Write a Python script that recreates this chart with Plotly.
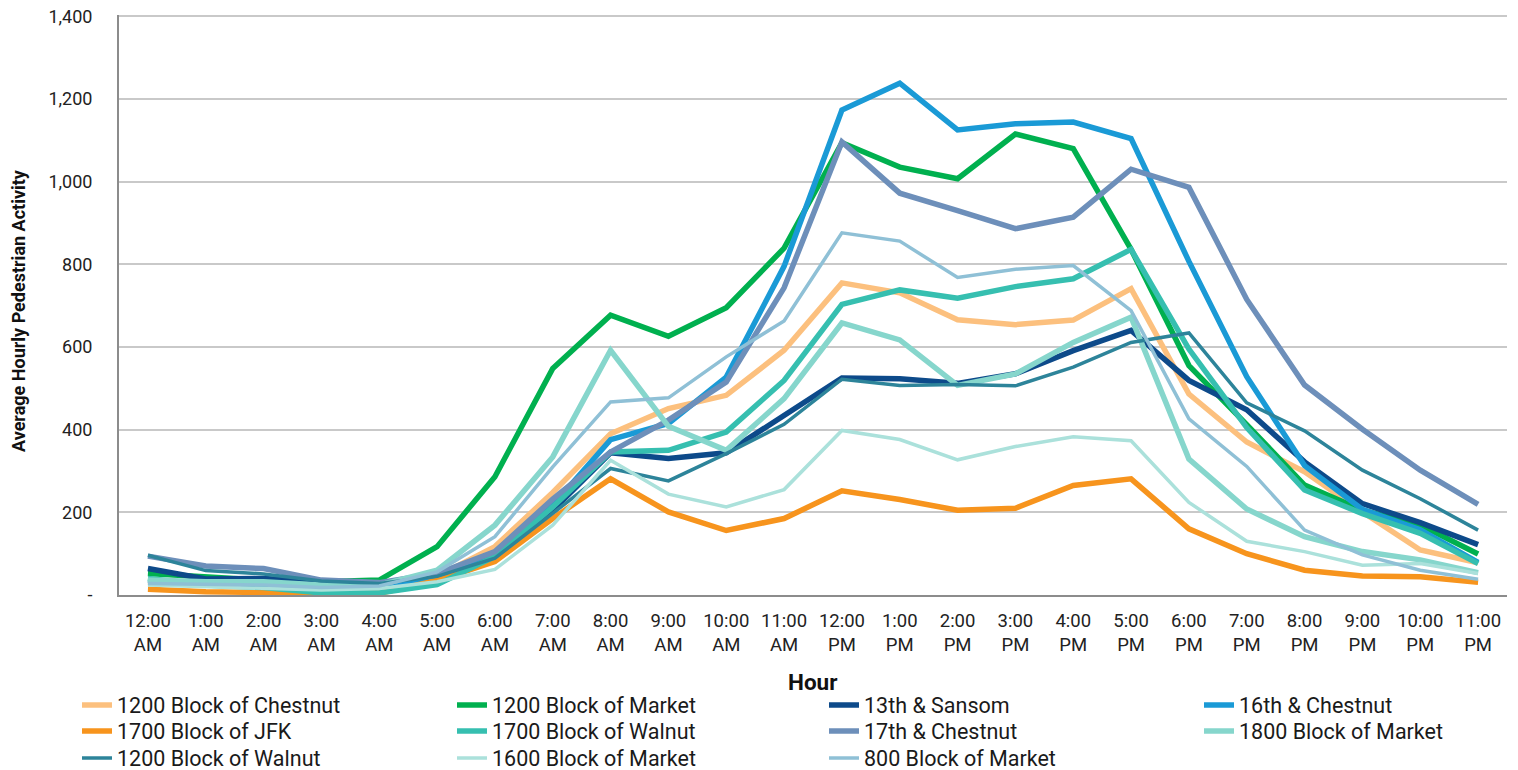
import plotly.graph_objects as go

hours = ["12:00<br>AM", "1:00<br>AM", "2:00<br>AM", "3:00<br>AM", "4:00<br>AM", "5:00<br>AM",
         "6:00<br>AM", "7:00<br>AM", "8:00<br>AM", "9:00<br>AM", "10:00<br>AM", "11:00<br>AM",
         "12:00<br>PM", "1:00<br>PM", "2:00<br>PM", "3:00<br>PM", "4:00<br>PM", "5:00<br>PM",
         "6:00<br>PM", "7:00<br>PM", "8:00<br>PM", "9:00<br>PM", "10:00<br>PM", "11:00<br>PM"]

chestnut_1200 = [32, 28, 24, 20, 22, 45, 117, 248, 390, 451, 483, 592, 755, 731, 666, 654, 665, 741, 486, 370, 298, 201, 109, 78]
market_1200 = [52, 43, 36, 32, 36, 117, 286, 548, 677, 626, 695, 839, 1094, 1035, 1007, 1115, 1080, 836, 555, 412, 266, 205, 169, 99]
sansom_13th = [64, 39, 40, 32, 28, 42, 93, 205, 344, 330, 344, 435, 525, 523, 512, 535, 591, 640, 519, 448, 322, 221, 175, 122]
chestnut_16th = [36, 26, 22, 16, 18, 38, 101, 217, 376, 415, 527, 795, 1173, 1238, 1125, 1140, 1144, 1104, 807, 528, 313, 207, 158, 79]
jfk_1700 = [14, 8, 6, 3, 4, 35, 81, 185, 281, 201, 156, 185, 252, 231, 205, 210, 265, 281, 160, 100, 60, 46, 44, 31]
walnut_1700 = [40, 24, 18, 5, 5, 25, 93, 213, 346, 350, 394, 519, 703, 738, 718, 746, 765, 836, 595, 405, 254, 197, 149, 76]
chestnut_17th = [94, 70, 64, 36, 30, 52, 105, 232, 346, 423, 515, 743, 1096, 972, 930, 886, 914, 1030, 986, 715, 508, 401, 302, 219]
market_1800 = [36, 32, 32, 24, 24, 60, 169, 334, 592, 408, 350, 475, 658, 617, 507, 535, 611, 672, 329, 208, 141, 105, 85, 54]
walnut_1200 = [96, 59, 51, 34, 28, 45, 89, 197, 306, 276, 342, 413, 522, 507, 509, 506, 551, 611, 634, 465, 397, 302, 233, 157]
market_1600 = [24, 20, 18, 12, 16, 32, 62, 169, 326, 244, 213, 255, 398, 376, 327, 359, 383, 373, 224, 130, 105, 72, 76, 52]
market_800 = [28, 27, 24, 18, 22, 56, 141, 310, 467, 477, 576, 663, 876, 856, 768, 788, 797, 688, 426, 311, 157, 97, 60, 38]

y_tickvals = [0, 200, 400, 600, 800, 1000, 1200, 1400]
y_ticktext = ["-", "200", "400", "600", "800", "1,000", "1,200", "1,400"]

# name, values, colour, width, legend column, legend row
series = [
    ("1200 Block of Chestnut", chestnut_1200, "#fcc07e", 5.5, 0, 0),
    ("1200 Block of Market", market_1200, "#00b04f", 5.5, 1, 0),
    ("13th & Sansom", sansom_13th, "#0d4a8a", 5.5, 2, 0),
    ("16th & Chestnut", chestnut_16th, "#1a9ad6", 5.5, 3, 0),
    ("1700 Block of JFK", jfk_1700, "#f7941d", 5.5, 0, 1),
    ("1700 Block of Walnut", walnut_1700, "#36bfb0", 5.5, 1, 1),
    ("17th & Chestnut", chestnut_17th, "#6d8fba", 5.5, 2, 1),
    ("1800 Block of Market", market_1800, "#86d6cc", 5.5, 3, 1),
    ("1200 Block of Walnut", walnut_1200, "#2d849a", 3.5, 0, 2),
    ("1600 Block of Market", market_1600, "#abe1db", 3.5, 1, 2),
    ("800 Block of Market", market_800, "#8fc0d6", 3.5, 2, 2),
]

font_main = "Roboto, 'Open Sans', sans-serif"

# page has an 8px body margin; figure coordinates are page minus 8
W, H = 1510, 800
ml, mr, mt = 111, 11, 7
plot_w = W - ml - mr          # 1388
plot_h = 580
mb = H - mt - plot_h
plot_bottom = mt + plot_h     # figure px

col_text_page = [118, 493, 865, 1240]
row_center_page = [705, 731, 758]

fig = go.Figure()
legends = {}
for i, (name, vals, color, w, col, row) in enumerate(series):
    key = "legend" if i == 0 else f"legend{i + 1}"
    fig.add_trace(go.Scatter(x=hours, y=vals, name=name, mode="lines",
                             line=dict(color=color, width=w), legend=key))
    lx_fig = col_text_page[col] - 8 - 41
    ly_fig = row_center_page[row] - 8
    legends[key] = dict(
        x=(lx_fig - ml) / plot_w, y=(plot_bottom - ly_fig) / plot_h,
        xanchor="left", yanchor="middle", orientation="v",
        font=dict(family=font_main, size=21.5, color="#1a1a1a"),
        bgcolor="rgba(0,0,0,0)", itemclick=False, itemdoubleclick=False,
    )

fig.update_layout(
    width=W, height=H,
    margin=dict(l=ml, r=mr, t=mt, b=mb),
    paper_bgcolor="white", plot_bgcolor="white",
    showlegend=True,
    xaxis=dict(type="category", range=[-0.5, 23.5], showgrid=False, showline=True,
               linecolor="#8c8c8c", linewidth=2,
               tickfont=dict(family=font_main, size=18.5, color="#222"), ticks="outside",
               ticklen=8, tickcolor="rgba(0,0,0,0)", automargin=False),
    yaxis=dict(range=[0, 1403], tickvals=y_tickvals, ticktext=y_ticktext,
               showgrid=True, gridcolor="#c9c9c9", gridwidth=1.5, zeroline=False,
               showline=True, linecolor="#8c8c8c", linewidth=2,
               tickfont=dict(family=font_main, size=18, color="#222"), ticks="outside",
               ticklen=21, tickcolor="rgba(0,0,0,0)", automargin=False,
               ticklabeloverflow="allow"),
    annotations=[
        dict(text="<b>Average Hourly Pedestrian Activity</b>", xref="paper", yref="paper",
             x=(18 - 8 - ml) / plot_w, y=(plot_bottom - (311 - 8)) / plot_h,
             xanchor="center", yanchor="middle",
             textangle=-90, showarrow=False, font=dict(family=font_main, size=18, color="#111")),
        dict(text="<b>Hour</b>", xref="paper", yref="paper",
             x=(812 - 8 - ml) / plot_w, y=(plot_bottom - (682 - 8)) / plot_h,
             xanchor="center", yanchor="middle",
             showarrow=False, font=dict(family=font_main, size=22.5, color="#111")),
    ],
    **legends,
)

fig.write_html("out.html")
